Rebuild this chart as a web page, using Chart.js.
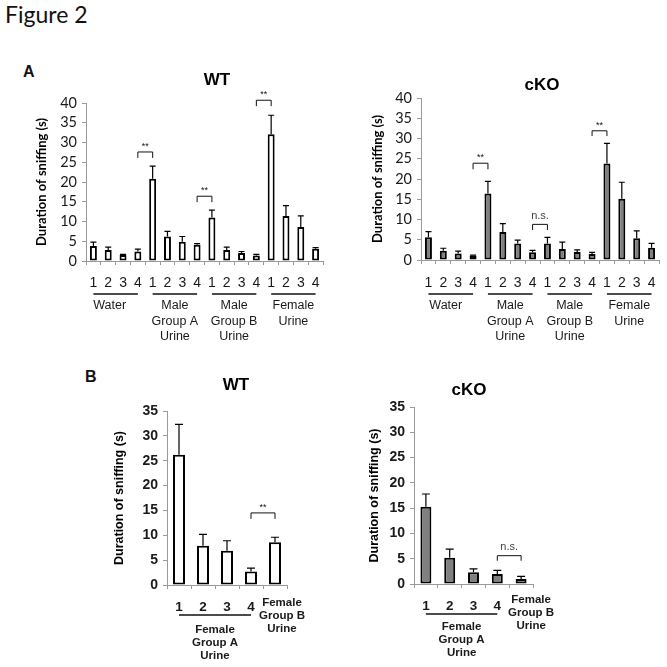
<!DOCTYPE html>
<html>
<head>
<meta charset="utf-8">
<script src="https://cdn.jsdelivr.net/npm/chart.js@4/dist/chart.umd.min.js"></script>
<style>
body { margin:0; background:#fff; width:667px; height:667px; position:relative; overflow:hidden; font-family:"Liberation Sans", Arial, sans-serif; color:#111; }
canvas { position:absolute; }
.txt { position:absolute; white-space:nowrap; }
</style>
</head>
<body>
<div class="txt" style="left:5px;top:0px;font-family:Lato, 'Open Sans', sans-serif;font-size:23px;">Figure 2</div>
<div class="txt" style="left:23px;top:63px;font-weight:bold;font-size:16px;">A</div>
<div class="txt" style="left:85px;top:368px;font-weight:bold;font-size:16px;">B</div>

<canvas id="wtA" width="335" height="290" style="left:0px;top:60px;width:335px;height:290px"></canvas>
<canvas id="koA" width="332" height="290" style="left:335px;top:60px;width:332px;height:290px"></canvas>
<canvas id="wtB" width="280" height="322" style="left:60px;top:345px;width:280px;height:322px"></canvas>
<canvas id="koB" width="300" height="322" style="left:335px;top:345px;width:300px;height:322px"></canvas>

<script>
/*-------------------------------------------------------------------------*/
// Data
/*-------------------------------------------------------------------------*/
var ticksA = ['1','2','3','4','1','2','3','4','1','2','3','4','1','2','3','4'];
var groupNamesA = [['Water'], ['Male','Group A','Urine'], ['Male','Group B','Urine'], ['Female','Urine']];
var groupSpansA = [[0,3], [4,7], [8,11], [12,15]];

var wtA_mean = [3.8, 2.8, 1.5, 2.4, 20.8, 6.2, 4.9, 4.1, 11.0, 2.8, 2.0, 1.4, 32.1, 11.4, 8.6, 3.1];
var wtA_sem  = [1.0, 0.7, 0.2, 0.6, 3.2, 1.3, 1.3, 0.3, 1.9, 0.7, 0.4, 0.3, 4.8, 2.6, 2.8, 0.3];
var wtA_sig  = [[3, 4, 27.6, 26.1, '**'], [7, 8, 16.4, 14.9, '**'], [11, 12, 40.7, 39.2, '**']];

var koA_mean = [5.6, 2.3, 1.6, 1.1, 16.4, 6.9, 4.1, 1.9, 4.1, 2.7, 2.0, 1.5, 23.8, 15.1, 5.4, 3.0];
var koA_sem  = [1.4, 0.6, 0.6, 0.1, 3.0, 2.1, 0.8, 0.5, 1.5, 1.7, 0.5, 0.4, 5.0, 4.1, 1.8, 1.1];
var koA_sig  = [[3, 4, 23.9, 22.4, '**'], [7, 8, 8.8, 7.4, 'n.s.'], [11, 12, 31.9, 30.6, '**']];

var ticksB = ['1','2','3','4',''];
var groupNamesB = [['Female','Group A','Urine']];
var groupSpansB = [[0,3]];
var lastLabelB = ['Female','Group B','Urine'];

var wtB_mean = [26.2, 7.9, 6.9, 2.7, 8.6];
var wtB_sem  = [6.1, 2.3, 2.0, 0.7, 1.0];
var wtB_sig  = [[3, 4, 14.5, 13.3, '**']];

var koB_mean = [15.3, 5.2, 2.3, 2.0, 1.0];
var koB_sem  = [2.5, 1.7, 0.7, 0.7, 0.5];
var koB_sig  = [[3, 4, 5.6, 4.6, 'n.s.']];

var yTitle = 'Duration of sniffing (s)';

Chart.defaults.font.family = '"Liberation Sans", Arial, sans-serif';
Chart.defaults.color = '#1a1a1a';

/*-------------------------------------------------------------------------*/
// Error bars, significance brackets, group labels, panel title
/*-------------------------------------------------------------------------*/
var figExtras = {
	id: 'figExtras',
	afterDatasetsDraw: function(chart) {
		var o = chart.options.plugins.figExtras;
		var ctx = chart.ctx;
		var xs = chart.scales.x, ys = chart.scales.y;
		var meta = chart.getDatasetMeta(0);
		var vals = chart.data.datasets[0].data;
		ctx.save();

		// error bars (upper only)
		ctx.strokeStyle = '#000';
		ctx.lineWidth = 1.2;
		o.sem.forEach(function(e, i) {
			var bar = meta.data[i];
			var top = ys.getPixelForValue(vals[i] + e);
			ctx.beginPath();
			ctx.moveTo(bar.x, bar.y);
			ctx.lineTo(bar.x, top);
			ctx.moveTo(bar.x - o.cap, top);
			ctx.lineTo(bar.x + o.cap, top);
			ctx.stroke();
		});

		// brackets
		ctx.lineWidth = 1;
		ctx.textAlign = 'center';
		ctx.textBaseline = 'bottom';
		o.sig.forEach(function(s) {
			var x1 = xs.getPixelForValue(s[0]), x2 = xs.getPixelForValue(s[1]);
			var yl = ys.getPixelForValue(s[2]), yf = ys.getPixelForValue(s[3]);
			ctx.strokeStyle = '#111';
			ctx.beginPath();
			ctx.moveTo(x1, yf); ctx.lineTo(x1, yl); ctx.lineTo(x2, yl); ctx.lineTo(x2, yf);
			ctx.stroke();
			ctx.fillStyle = s[4] == '**' ? '#111' : '#444';
			ctx.font = s[4] == '**' ? '9px "Liberation Sans", Arial' : '11px "Liberation Sans", Arial';
			ctx.fillText(s[4], (x1 + x2) / 2, yl - (s[4] == '**' ? 1 : 3));
		});

		// group underlines and names
		var base = chart.chartArea.bottom;
		ctx.textBaseline = 'middle';
		ctx.font = o.groupFont;
		ctx.fillStyle = '#1a1a1a';
		o.spans.forEach(function(sp, g) {
			var x1 = xs.getPixelForValue(sp[0]), x2 = xs.getPixelForValue(sp[1]);
			ctx.strokeStyle = '#111';
			ctx.lineWidth = 1.3;
			ctx.beginPath();
			ctx.moveTo(x1, base + o.lineOff);
			ctx.lineTo(x2, base + o.lineOff);
			ctx.stroke();
			var cx = (x1 + x2) / 2 + (o.groupDx ? o.groupDx[g] : 0);
			o.names[g].forEach(function(t, k) {
				ctx.fillText(t, cx, base + o.textOff + k * o.lineStep);
			});
		});

		// lone category label (panel B, last bar)
		if (o.lone) {
			var lx = xs.getPixelForValue(o.lone.index) + o.lone.dx;
			o.lone.lines.forEach(function(t, k) {
				ctx.fillText(t, lx, base + o.lone.off + k * o.lineStep);
			});
		}

		// panel title
		ctx.font = 'bold 17px "Liberation Sans", Arial';
		ctx.fillStyle = '#000';
		ctx.fillText(o.title, o.titleX, o.titleY);
		ctx.restore();
	}
};

function sniffChart(id, p) {
	return new Chart(document.getElementById(id), {
		type: 'bar',
		data: {
			labels: p.labels,
			datasets: [{
				data: p.mean,
				backgroundColor: p.fill,
				borderColor: '#000',
				borderWidth: 2,
				borderSkipped: false,
				barPercentage: p.barPct,
				categoryPercentage: 1
			}]
		},
		options: {
			responsive: false,
			animation: false,
			layout: { padding: { top: p.top, right: p.right, left: 0, bottom: 0 } },
			plugins: {
				legend: { display: false },
				tooltip: { enabled: false },
				figExtras: {
					sem: p.sem, sig: p.sig, cap: p.cap,
					spans: p.spans, names: p.names, groupFont: p.groupFont, groupDx: p.groupDx,
					lineOff: p.lineOff, textOff: p.textOff, lineStep: p.lineStep, lone: p.lone,
					title: p.title, titleX: p.titleX, titleY: p.titleY
				}
			},
			scales: {
				x: {
					grid: { drawOnChartArea: false, tickLength: 4, color: '#9a9a9a' },
					border: { color: '#9a9a9a' },
					ticks: { autoSkip: false, maxRotation: 0, minRotation: 0, padding: p.xPad, font: p.xFont, color: '#1a1a1a' },
					afterFit: function(s) { s.height = p.xHeight; }
				},
				y: {
					min: 0, max: p.max,
					grid: { drawOnChartArea: false, tickLength: 4, color: '#9a9a9a' },
					border: { color: '#9a9a9a' },
					ticks: { stepSize: 5, autoSkip: false, padding: 5, font: p.yFont, color: '#1a1a1a' },
					title: { display: true, text: yTitle, font: p.titleFont, color: '#000', padding: { top: p.yTitlePad, bottom: 0 } },
					afterFit: function(s) { s.width = p.yWidth; }
				}
			}
		},
		plugins: [figExtras]
	});
}

/*-------------------------------------------------------------------------*/
// Panels
/*-------------------------------------------------------------------------*/
var calibriLike = 'Lato, "Open Sans", sans-serif';

sniffChart('wtA', {
	labels: ticksA, mean: wtA_mean, sem: wtA_sem, sig: wtA_sig, fill: '#ffffff', barPct: 0.47, cap: 3,
	spans: groupSpansA, names: groupNamesA, groupFont: '12.5px "Liberation Sans", Arial', groupDx: [-6, 0, 0, 0],
	lineOff: 33, textOff: 45, lineStep: 15.5,
	top: 43, right: 12, yWidth: 86, xHeight: 89, max: 40, xPad: 10,
	xFont: { size: 14 }, yFont: { size: 14.5, family: calibriLike }, titleFont: { size: 13, weight: 'bold', family: calibriLike }, yTitlePad: 34,
	title: 'WT', titleX: 217, titleY: 20
});

sniffChart('koA', {
	labels: ticksA, mean: koA_mean, sem: koA_sem, sig: koA_sig, fill: '#808080', barPct: 0.47, cap: 3,
	spans: groupSpansA, names: groupNamesA, groupFont: '12.5px "Liberation Sans", Arial', groupDx: [-5, 0, 0, 0],
	lineOff: 34, textOff: 46, lineStep: 15.5,
	top: 38, right: 8, yWidth: 86, xHeight: 90, max: 40, xPad: 11,
	xFont: { size: 14 }, yFont: { size: 14.5, family: calibriLike }, titleFont: { size: 13, weight: 'bold', family: calibriLike }, yTitlePad: 35,
	title: 'cKO', titleX: 207, titleY: 25
});

sniffChart('wtB', {
	labels: ticksB, mean: wtB_mean, sem: wtB_sem, sig: wtB_sig, fill: '#ffffff', barPct: 0.5, cap: 4,
	spans: groupSpansB, names: groupNamesB, groupFont: 'bold 11.5px "Liberation Sans", Arial',
	lineOff: 30, textOff: 45, lineStep: 13,
	lone: { index: 4, dx: 7, off: 18, lines: lastLabelB },
	top: 66, right: 53, yWidth: 107, xHeight: 82, max: 35, xPad: 10,
	xFont: { size: 13.5, weight: 'bold' }, yFont: { size: 14, weight: 'bold' }, titleFont: { size: 12.5, weight: 'bold' }, yTitlePad: 52,
	title: 'WT', titleX: 176, titleY: 40
});

sniffChart('koB', {
	labels: ticksB, mean: koB_mean, sem: koB_sem, sig: koB_sig, fill: '#808080', barPct: 0.46, cap: 4,
	spans: groupSpansB, names: groupNamesB, groupFont: 'bold 11.5px "Liberation Sans", Arial',
	lineOff: 30, textOff: 43, lineStep: 13,
	lone: { index: 4, dx: 10, off: 16, lines: lastLabelB },
	top: 62, right: 102, yWidth: 79, xHeight: 83, max: 35, xPad: 10,
	xFont: { size: 13.5, weight: 'bold' }, yFont: { size: 14, weight: 'bold' }, titleFont: { size: 12.5, weight: 'bold' }, yTitlePad: 32,
	title: 'cKO', titleX: 134, titleY: 45
});
</script>
</body>
</html>
